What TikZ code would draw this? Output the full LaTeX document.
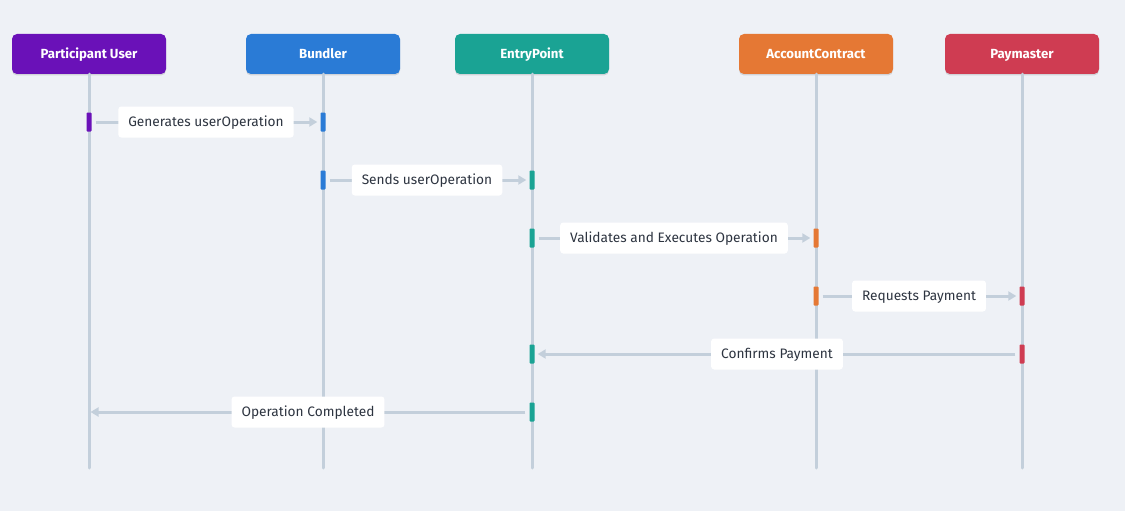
\documentclass[tikz,border=0pt]{standalone}
\usepackage{fontspec}
\setmainfont{Fira Sans}
\usetikzlibrary{arrows.meta,shadows}
\definecolor{bgc}{HTML}{EEF1F6}
\definecolor{linec}{HTML}{C3CFDB}
\definecolor{txtc}{HTML}{2D3440}
\definecolor{cuser}{HTML}{6A11B8}
\definecolor{cbund}{HTML}{2A7BD6}
\definecolor{centry}{HTML}{1AA394}
\definecolor{cacct}{HTML}{E57834}
\definecolor{cpay}{HTML}{CF3C52}
\tikzset{
  head/.style={draw=none, fill=#1, rounded corners=5pt, minimum width=154pt, minimum height=40pt,
    text=white, font=\fontsize{13.2}{15}\selectfont\bfseries, inner sep=0pt,
    text height=9.4pt, text depth=0pt,
    drop shadow={shadow xshift=0pt, shadow yshift=-1.5pt, opacity=0.12, fill=black}},
  life/.style={draw=linec, line width=3pt, line cap=round},
  actbar/.style={fill=#1, draw=none, minimum width=5pt, minimum height=19pt, inner sep=0pt, rounded corners=0.8pt},
  msg/.style={draw=linec, line width=3pt, -{Triangle[length=8pt,width=9pt]}},
  lbl/.style={fill=white, rounded corners=3pt, text=txtc, font=\fontsize{13.7}{15}\selectfont,
    inner xsep=10pt, minimum height=31pt, inner ysep=0pt, text height=9.8pt, text depth=0pt}
}
\begin{document}
\begin{tikzpicture}[x=1pt,y=-1pt]
\fill[bgc] (0,0) rectangle (1125,511);
\useasboundingbox (0,0) rectangle (1125,511);
% headers
\node[head=cuser] (hU) at (89,54) {Participant User};
\node[head=cbund] (hB) at (323,54) {Bundler};
\node[head=centry] (hE) at (532,54) {EntryPoint};
\node[head=cacct] (hA) at (816,54) {AccountContract};
\node[head=cpay] (hP) at (1022,54) {Paymaster};
% lifeline ends
\coordinate (eU) at (89,468);
\coordinate (eB) at (323,468);
\coordinate (eE) at (532,468);
\coordinate (eA) at (816,468);
\coordinate (eP) at (1022,468);
\draw[life] (hU.south) -- (eU);
\draw[life] (hB.south) -- (eB);
\draw[life] (hE.south) -- (eE);
\draw[life] (hA.south) -- (eA);
\draw[life] (hP.south) -- (eP);
% activation bars
\node[actbar=cuser] (a1s) at (89,122) {};
\node[actbar=cbund] (a1t) at (323,122) {};
\node[actbar=cbund] (a2s) at (323,180) {};
\node[actbar=centry] (a2t) at (532,180) {};
\node[actbar=centry] (a3s) at (532,238) {};
\node[actbar=cacct] (a3t) at (816,238) {};
\node[actbar=cacct] (a4s) at (816,296) {};
\node[actbar=cpay] (a4t) at (1022,296) {};
\node[actbar=cpay] (a5s) at (1022,354) {};
\node[actbar=centry] (a5t) at (532,354) {};
\node[actbar=centry] (a6s) at (532,412) {};
\coordinate (a6t) at (89,412);
% messages
\draw[msg] ([xshift=4pt]a1s.east) -- ([xshift=-3pt]a1t.west);
\draw[msg] ([xshift=4pt]a2s.east) -- ([xshift=-3pt]a2t.west);
\draw[msg] ([xshift=4pt]a3s.east) -- ([xshift=-3pt]a3t.west);
\draw[msg] ([xshift=4pt]a4s.east) -- ([xshift=-3pt]a4t.west);
\draw[msg] ([xshift=-4pt]a5s.west) -- ([xshift=3pt]a5t.east);
\draw[msg] ([xshift=-4pt]a6s.west) -- ([xshift=1.5pt]a6t);
% labels
\node[lbl] (l1) at (206,122) {Generates userOperation};
\node[lbl] (l2) at (427,180) {Sends userOperation};
\node[lbl] (l3) at (674,238) {Validates and Executes Operation};
\node[lbl] (l4) at (919,296) {Requests Payment};
\node[lbl] (l5) at (777,354) {Confirms Payment};
\node[lbl] (l6) at (308,412) {Operation Completed};
\end{tikzpicture}
\end{document}
